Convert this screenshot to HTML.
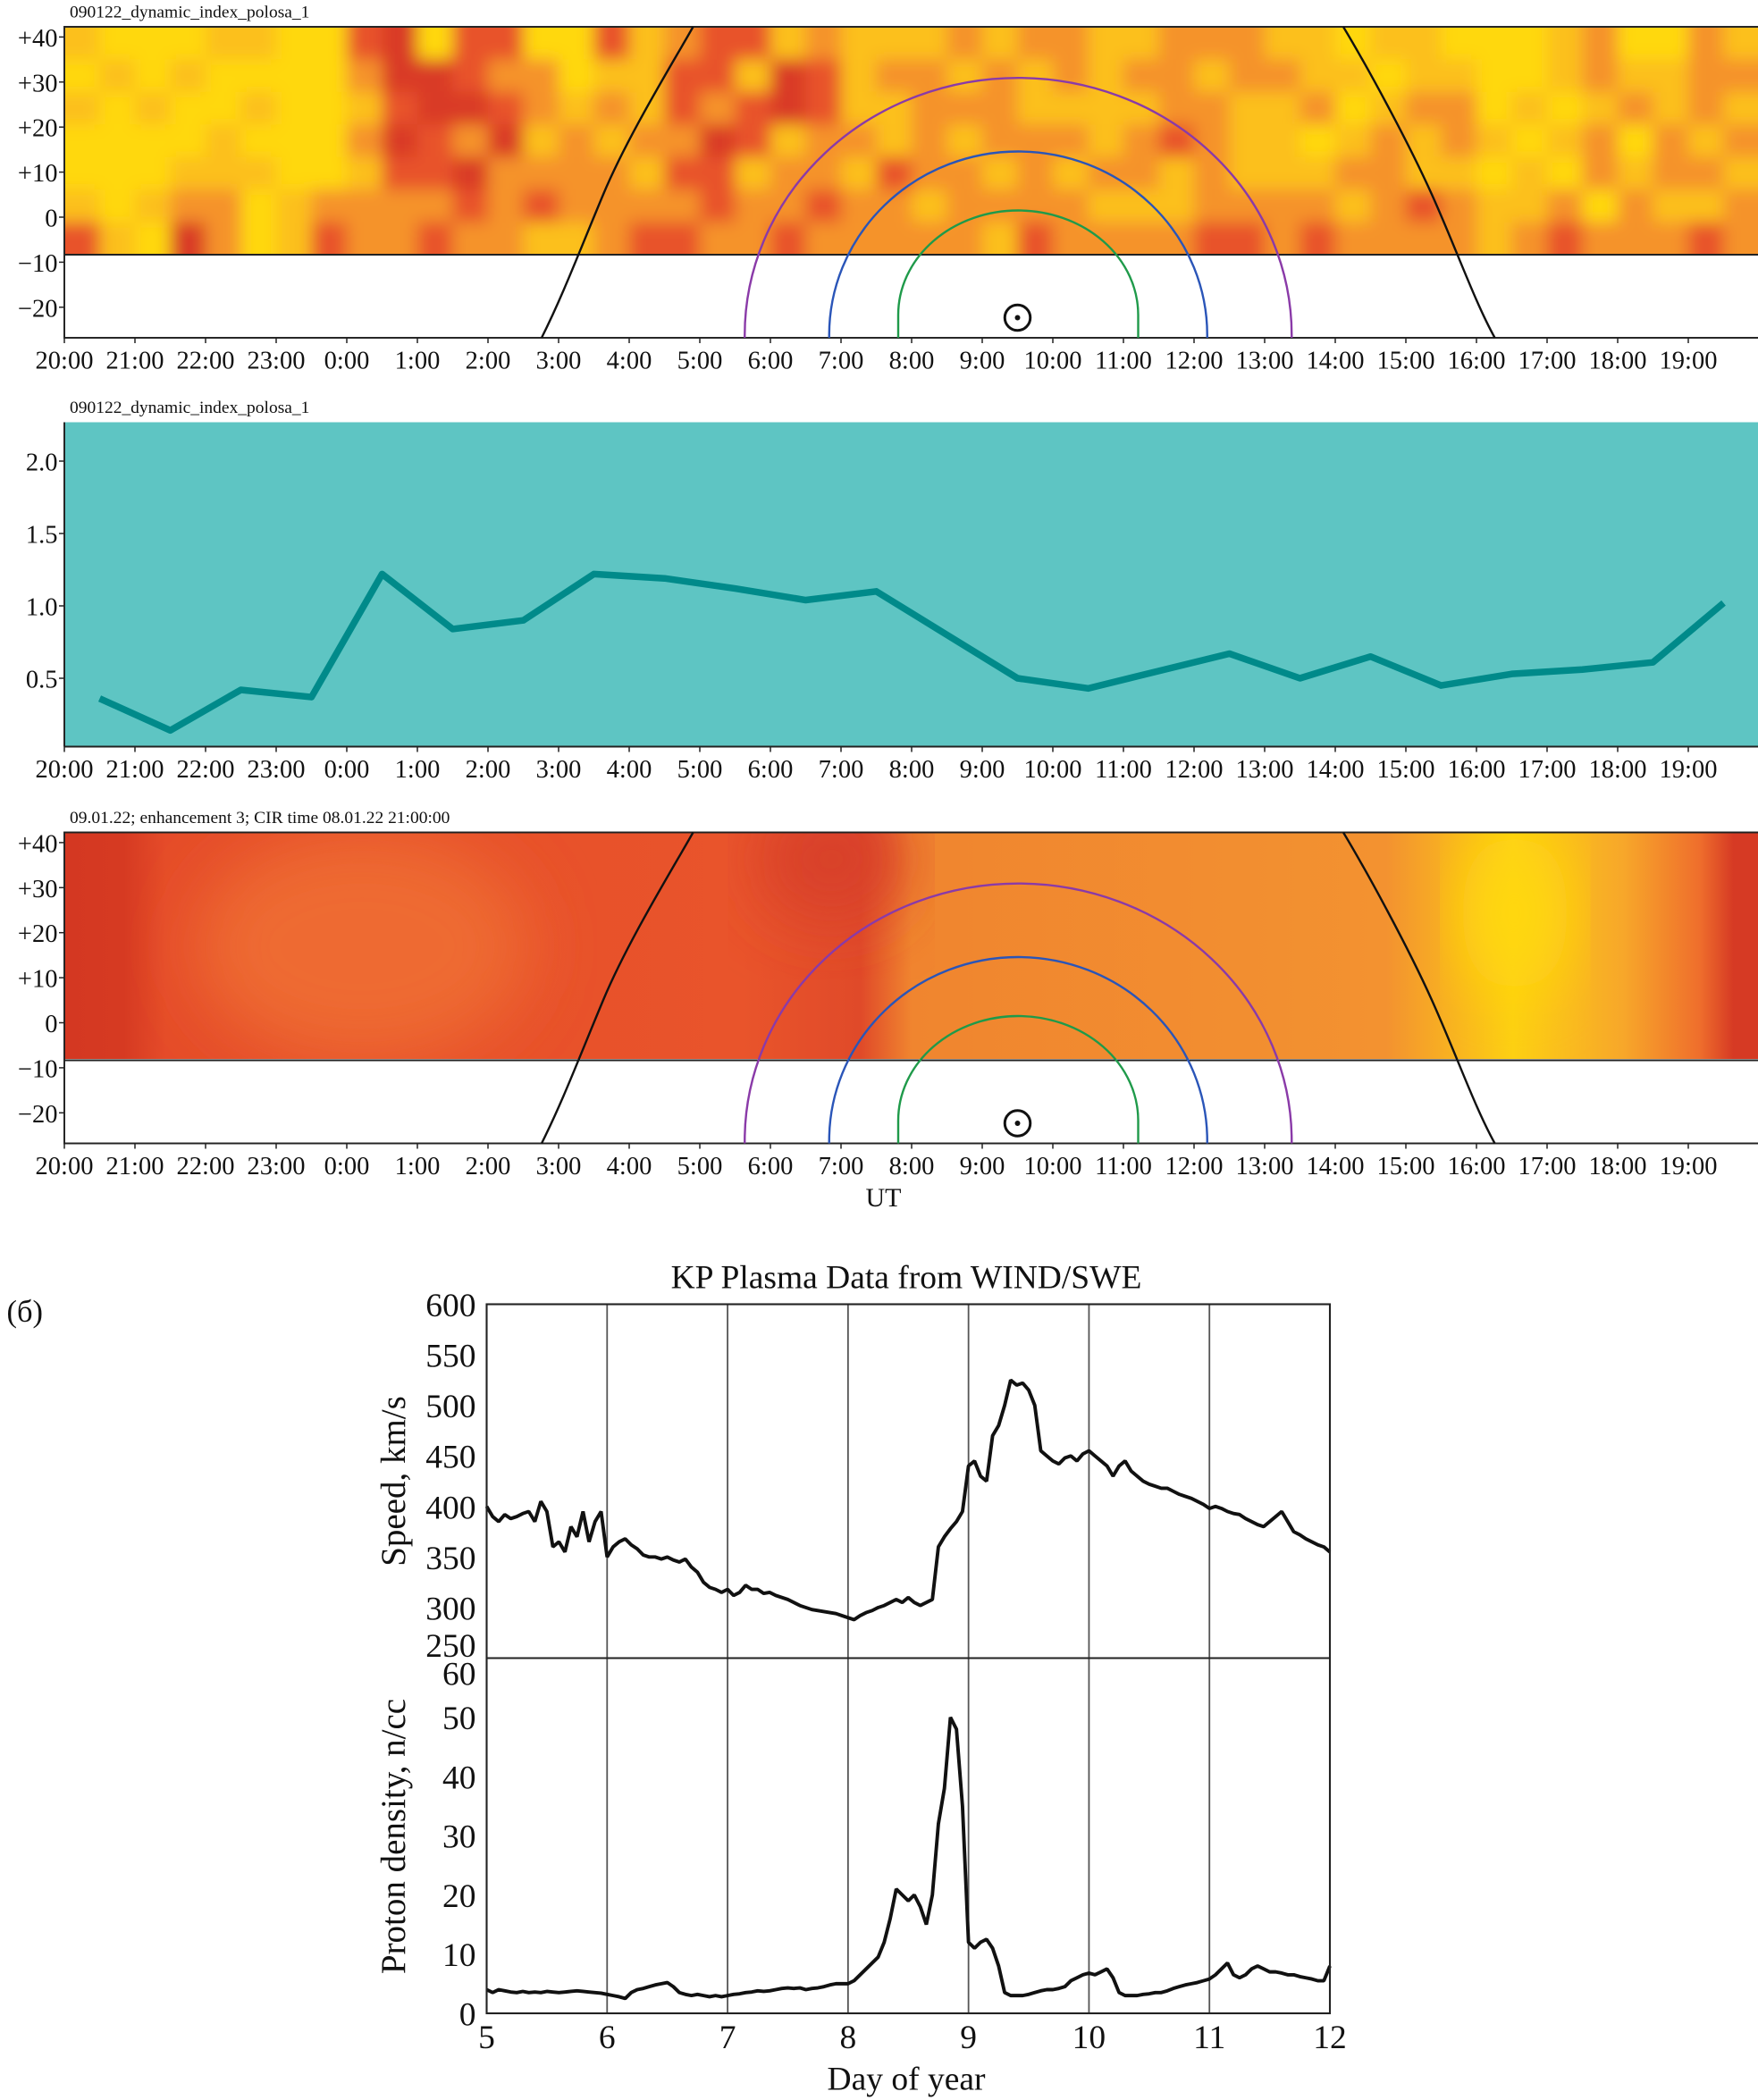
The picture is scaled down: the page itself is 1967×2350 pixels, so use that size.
<!DOCTYPE html>
<html><head><meta charset="utf-8"><style>
html,body{margin:0;padding:0;background:#fff;}
svg{display:block;}
text{font-family:"Liberation Serif",serif;fill:#111;}
</style></head><body>
<svg id="fig" width="1967" height="2350" viewBox="0 0 1311.33 1566.67" xmlns="http://www.w3.org/2000/svg">
<defs>
<filter id="blur1" x="-5%" y="-20%" width="110%" height="140%"><feGaussianBlur stdDeviation="6"/></filter>
<filter id="blur3" x="-20%" y="-50%" width="140%" height="200%"><feGaussianBlur stdDeviation="25"/></filter>
<clipPath id="clipH1"><rect x="48" y="20" width="1264" height="170"/></clipPath>
<clipPath id="clipH3"><rect x="48" y="621" width="1264" height="169"/></clipPath>
<linearGradient id="g3" x1="0" x2="1" y1="0" y2="0">
<stop offset="0" stop-color="#d43822"/><stop offset="0.035" stop-color="#d63a22"/>
<stop offset="0.06" stop-color="#e54c29"/><stop offset="0.40" stop-color="#e9542b"/>
<stop offset="0.47" stop-color="#e04a29"/><stop offset="0.50" stop-color="#f0852f"/>
<stop offset="0.78" stop-color="#f39230"/><stop offset="0.855" stop-color="#fdd012"/>
<stop offset="0.92" stop-color="#f7a72a"/><stop offset="0.965" stop-color="#ef6e2c"/>
<stop offset="0.985" stop-color="#d63a24"/><stop offset="1" stop-color="#d63a24"/>
</linearGradient>
</defs>
<g id="root"></g>
</svg>
<script>
// ===== Panel data =====
const hourLabels = ["20:00","21:00","22:00","23:00","0:00","1:00","2:00","3:00","4:00","5:00","6:00","7:00","8:00","9:00","10:00","11:00","12:00","13:00","14:00","15:00","16:00","17:00","18:00","19:00"];
const latTicks = [40,30,20,10,0,-10,-20];
const latTickLabels = ["+40","+30","+20","+10","0","\u221210","\u221220"];
// heatmap levels (rows top->bottom, 48 half-hour columns)
const heatRows = [
"100011003403300312331211121221122211011000120021",
"010100002443220113314312212121221221101100121122",
"101001001344321213234311222111122112012201012121",
"000010002432412122431221212221232110121210120212",
"000111001334222213312213221212212111221101021221",
"101220122223232222322322122221112222123211202112",
"310420132232211233223222221322223323222212322232"];
const heatColors = ["#ffd80e","#fcc01a","#f5932b","#e8522a","#d93a26"];
// dynamic index (half-hour points 20:30 .. 19:30)
const idxHours = [0.5,1.5,2.5,3.5,4.5,5.5,6.5,7.5,8.5,9.5,10.5,11.5,12.5,13.5,14.5,15.5,16.5,17.5,18.5,19.5,20.5,21.5,22.5,23.5];
const idxValues = [0.36,0.14,0.42,0.37,1.22,0.84,0.90,1.22,1.19,1.12,1.04,1.10,0.80,0.50,0.43,0.55,0.67,0.50,0.65,0.45,0.53,0.56,0.61,1.02];
const idxTicks = [0.5,1.0,1.5,2.0];
const idxTickLabels = ["0.5","1.0","1.5","2.0"];
// WIND/SWE data, day 5..12 step 0.05
const dayStart = 5, dayStep = 0.05;
const speedValues = [400,390,385,392,388,390,393,395,385,405,395,360,365,355,380,370,395,365,385,395,
350,360,365,368,362,358,352,350,350,348,350,347,345,348,340,335,325,320,318,315,
318,312,315,322,318,318,314,315,312,310,308,305,302,300,298,297,296,295,294,292,
290,288,292,295,297,300,302,305,308,305,310,305,302,305,308,360,370,378,385,395,
440,445,430,425,470,480,500,525,520,522,515,500,455,450,445,442,448,450,445,452,
455,450,445,440,430,440,445,435,430,425,422,420,418,418,415,412,410,408,405,402,
398,400,398,395,393,392,388,385,382,380,385,390,395,385,375,372,368,365,362,360,355];
const densValues = [4,3.5,4,3.8,3.6,3.5,3.7,3.5,3.6,3.5,3.7,3.6,3.5,3.6,3.7,3.8,3.7,3.6,3.5,3.4,
3.2,3.0,2.8,2.5,3.5,4.0,4.2,4.5,4.8,5.0,5.2,4.5,3.5,3.2,3.0,3.2,3.0,2.8,3.0,2.8,
3.0,3.2,3.3,3.5,3.6,3.8,3.7,3.8,4.0,4.2,4.3,4.2,4.3,4.0,4.2,4.3,4.5,4.8,5.0,5.0,
5.0,5.5,6.5,7.5,8.5,9.5,12,16,21,20,19,20,18,15,20,32,38,50,48,35,
12,11,12,12.5,11,8,3.5,3,3,3,3.2,3.5,3.8,4,4,4.2,4.5,5.5,6,6.5,
6.8,6.5,7,7.5,6,3.5,3,3,3,3.2,3.3,3.5,3.5,3.8,4.2,4.5,4.8,5,5.2,5.5,
5.8,6.5,7.5,8.5,6.5,6,6.5,7.5,8,7.5,7,7,6.8,6.5,6.5,6.2,6,5.8,5.5,5.5,8];
const speedTicks = [250,300,350,400,450,500,550,600];
const densTicks = [0,10,20,30,40,50,60];
const dayTicks = [5,6,7,8,9,10,11,12];

// ===== helpers =====
const NS="http://www.w3.org/2000/svg";
const root=document.getElementById('root');
function el(tag,attrs,parent,txt){const e=document.createElementNS(NS,tag);for(const k in attrs)e.setAttribute(k,attrs[k]);if(txt!==undefined)e.textContent=txt;(parent||root).appendChild(e);return e;}
const X0=48,X1=1312,HW=(1312-48)/24;
const xh=h=>X0+h*HW;
function latY(base){return v=>base-v*3.36;}

function geoPanel(top,title,heatFn,prefix){
  const g=el('g',{});
  
  const yl=latY(top+142);
  const t=el('text',{x:52,y:top-7,'font-size':13},g,title);
  
  heatFn(g,top);
  const box=el('rect',{x:X0,y:top,width:X1-X0,height:232,fill:'none',stroke:'#222','stroke-width':1.3},g);
  
  el('line',{x1:X0,x2:X1,y1:top+170,y2:top+170,stroke:'#222','stroke-width':1.3},g);
  const cv=el('g',{fill:'none','stroke-width':1.6},g);
  
  el('path',{d:`M404,${top+232} C420,${top+200} 432,${top+168} 450,${top+125} S500,${top+30} 517,${top}`,stroke:'#111'},cv);
  el('path',{d:`M1002,${top} C1020,${top+30} 1050,${top+85} 1068,${top+125} S1100,${top+205} 1115,${top+232}`,stroke:'#111'},cv);
  const cy=top+230;
  el('path',{d:`M555.5,${top+232} L555.5,${cy} A204,192 0 0 1 963.5,${cy} L963.5,${top+232}`,stroke:'#8a3aa8'},cv);
  el('path',{d:`M618.5,${top+232} L618.5,${cy} A141,137 0 0 1 900.5,${cy} L900.5,${top+232}`,stroke:'#2a55b8'},cv);
  el('path',{d:`M670,${top+232} L670,${top+215} A89.5,78 0 0 1 849,${top+215} L849,${top+232}`,stroke:'#1f9a4a'},cv);
  const sun=el('g',{},g);
  el('circle',{cx:759,cy:top+217,r:9.5,fill:'none',stroke:'#111','stroke-width':2},sun);
  el('circle',{cx:759,cy:top+217,r:2,fill:'#111'},sun);
  latTicks.forEach((v,i)=>{const y=yl(v);
    el('line',{x1:X0-4,x2:X0,y1:y,y2:y,stroke:'#222'},g);
    const lt=el('text',{x:43,y:y+7,'font-size':19,'text-anchor':'end'},g,latTickLabels[i]);
    });
  hourLabels.forEach((s,i)=>{const x=xh(i);
    el('line',{x1:x,x2:x,y1:top+232,y2:top+236,stroke:'#222'},g);
    const lt=el('text',{x:x,y:top+255,'font-size':19,'text-anchor':'middle'},g,s);
    });
}

function heat1(g,top){
  const hg=el('g',{'clip-path':'url(#clipH1)'},g);
  
  el('rect',{x:X0,y:top,width:X1-X0,height:170,fill:heatColors[1]},hg);
  const inner=el('g',{filter:'url(#blur1)'},hg);
  const cw=(X1-X0)/48,ch=170/heatRows.length;
  heatRows.forEach((row,r)=>{for(let c=0;c<row.length;c++){
    const lv=+row[c];
    const rc=el('rect',{x:X0+c*cw-(c==0?20:0),y:top+r*ch-(r==0?20:0),width:cw+1+(c==0||c==47?20:0),height:ch+1+(r==0||r==heatRows.length-1?20:0),fill:heatColors[lv]},inner);
    
  }});
}
function heat3(g,top){
  const hg=el('g',{'clip-path':'url(#clipH3)'},g);
  
  el('rect',{x:X0,y:top,width:X1-X0,height:170,fill:'url(#g3)'},hg);
  el('ellipse',{cx:270,cy:top+85,rx:125,ry:85,fill:'#ee6a30',filter:'url(#blur3)'},hg);
  el('ellipse',{cx:620,cy:top+20,rx:55,ry:45,fill:'#d8412a',filter:'url(#blur3)'},hg);
  el('ellipse',{cx:1130,cy:top+60,rx:40,ry:60,fill:'#ffd80e',filter:'url(#blur3)'},hg);
}

geoPanel(20,"090122_dynamic_index_polosa_1",heat1,'top');

(function(){
  const top=315,g=el('g',{});
  
  const t=el('text',{x:52,y:308,'font-size':13},g,"090122_dynamic_index_polosa_1");
  
  const bg=el('rect',{x:X0,y:top,width:X1-X0,height:242,fill:'#5ec5c3'},g);
  
  const yv=v=>452-(v-1)*108;
  const pts=idxHours.map((h,i)=>xh(h)+','+yv(idxValues[i])).join(' ');
  const ln=el('polyline',{points:pts,fill:'none',stroke:'#008a8a','stroke-width':5,'stroke-linejoin':'round'},g);
  
  el('line',{x1:X0,x2:X0,y1:top,y2:557,stroke:'#222','stroke-width':1.3},g);
  el('line',{x1:X0,x2:X1,y1:557,y2:557,stroke:'#222','stroke-width':1.3},g);
  idxTicks.forEach((v,i)=>{const y=yv(v);
    el('line',{x1:X0-4,x2:X0,y1:y,y2:y,stroke:'#222'},g);
    const lt=el('text',{x:43,y:y+7,'font-size':19,'text-anchor':'end'},g,idxTickLabels[i]);
    });
  hourLabels.forEach((s,i)=>{const x=xh(i);
    el('line',{x1:x,x2:x,y1:557,y2:561,stroke:'#222'},g);
    const lt=el('text',{x:x,y:580,'font-size':19,'text-anchor':'middle'},g,s);
    });
})();

geoPanel(621,"09.01.22; enhancement 3; CIR time 08.01.22 21:00:00",heat3,'bottom');
{const u=el('text',{x:659,y:900,'font-size':20,'text-anchor':'middle'},root,"UT");
}

(function(){
  const g=el('g',{});
  
  const L=363,R=992,T=973,M=1237,B=1502;
  const xd=d=>L+(d-5)*(R-L)/7;
  const ys=v=>T+(600-v)*(M-T)/350;
  const yd=v=>B-v*(B-M)/60;
  const lb=el('text',{x:5,y:986,'font-size':23},g,"(б)");
  
  const tt=el('text',{x:676,y:961,'font-size':25,'text-anchor':'middle'},g,"KP Plasma Data from WIND/SWE");
  
  dayTicks.slice(1,-1).forEach(d=>{const gl=el('line',{x1:xd(d),x2:xd(d),y1:T,y2:B,stroke:'#555','stroke-width':1.2},g);
    });
  const sp=speedValues.map((v,i)=>xd(dayStart+i*dayStep)+','+ys(v)).join(' ');
  const sl=el('polyline',{points:sp,fill:'none',stroke:'#111','stroke-width':2.6,'stroke-linejoin':'bevel'},g);
  
  const dp=densValues.map((v,i)=>xd(dayStart+i*dayStep)+','+yd(v)).join(' ');
  const dl=el('polyline',{points:dp,fill:'none',stroke:'#111','stroke-width':2.6,'stroke-linejoin':'bevel'},g);
  
  el('rect',{x:L,y:T,width:R-L,height:B-T,fill:'none',stroke:'#222','stroke-width':1.4},g);
  el('line',{x1:L,x2:R,y1:M,y2:M,stroke:'#222','stroke-width':1.4},g);
  speedTicks.forEach(v=>{const y=v==250?ys(v)-10:ys(v);
    const lt=el('text',{x:355,y:y+9,'font-size':25,'text-anchor':'end'},g,String(v));
    });
  densTicks.forEach(v=>{const y=v==60?yd(v)+11:yd(v);
    const lt=el('text',{x:355,y:y+9,'font-size':25,'text-anchor':'end'},g,String(v));
    });
  dayTicks.forEach(d=>{const lt=el('text',{x:xd(d),y:1528,'font-size':25,'text-anchor':'middle'},g,String(d));
    });
  const xt=el('text',{x:676,y:1559,'font-size':25,'text-anchor':'middle'},g,"Day of year");
  
  const s1=el('text',{x:0,y:0,'font-size':26,'text-anchor':'middle',transform:'translate(302,1105) rotate(-90)'},g,"Speed, km/s");
  
  const s2=el('text',{x:0,y:0,'font-size':26,'text-anchor':'middle',transform:'translate(302,1370) rotate(-90)'},g,"Proton density, n/cc");
  
})();
</script>
</body></html>
